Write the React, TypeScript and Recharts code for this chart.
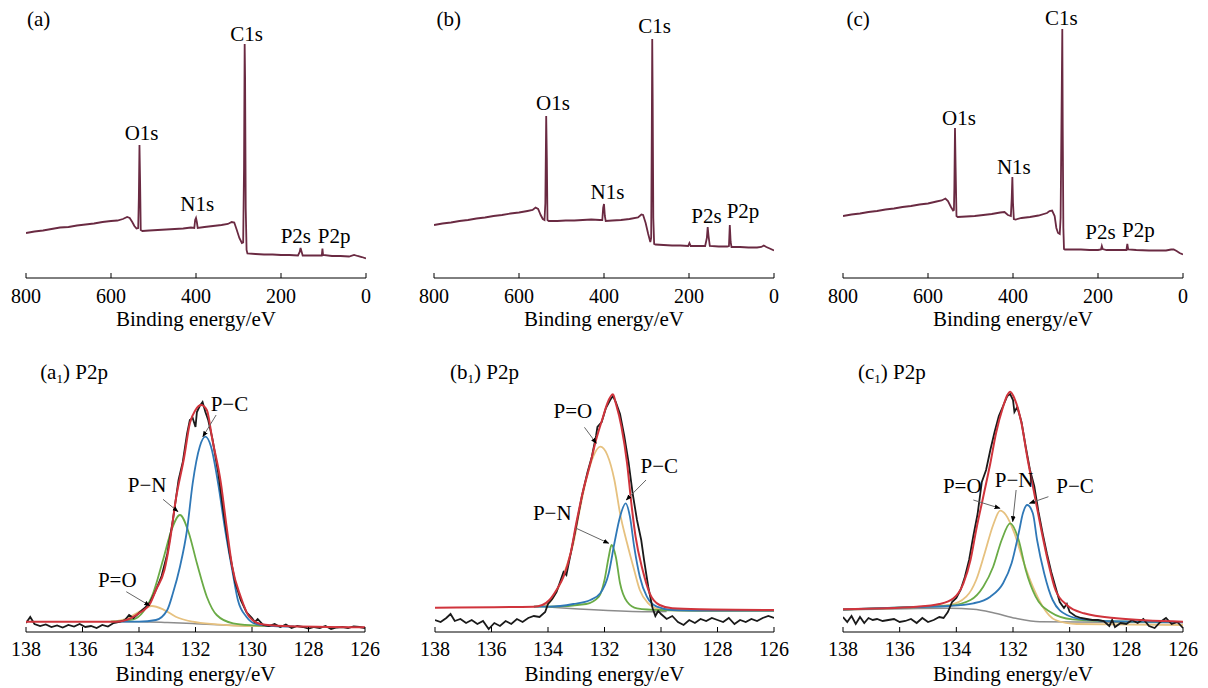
import React from "react";
import { LineChart, Line, XAxis, YAxis, ReferenceDot } from "recharts";

type Pt = [number, number];

// survey spectra: [binding energy eV, intensity a.u.]
const surveyTicks = [0, 200, 400, 600, 800];
const p2pTicks = [126, 128, 130, 132, 134, 136, 138];

const surveyA: Pt[] = [
  [800, 45], [780, 46.5], [760, 47.5], [740, 49], [720, 50.5], [700, 51], [680, 52.5], [660, 53.5],
  [640, 54.5], [620, 56], [600, 57], [585, 57.5], [572, 59], [562, 61], [556, 60], [550, 56],
  [545, 52], [540, 49.5], [536, 50], [534.5, 80], [533, 133], [531.5, 95], [530, 48], [526, 47],
  [510, 47.5], [490, 48], [470, 48.5], [450, 49], [430, 49.5], [412, 50.5], [404, 50], [402, 58],
  [400, 60], [398, 56], [396, 50], [380, 51], [360, 52], [340, 53], [325, 54], [316, 56],
  [310, 55.5], [304, 48], [298, 40], [292, 35], [289, 35.5], [287, 110], [285.5, 234], [284.5, 200],
  [283, 70], [281, 28], [279, 24.5], [260, 24], [240, 23.5], [220, 23.5], [200, 23], [180, 23],
  [160, 22.5], [156, 26], [154, 30], [152, 27], [149, 22.5], [120, 22.5], [104, 22.5], [102.5, 29.5],
  [101, 23], [80, 22], [60, 22], [40, 21.5], [28, 23], [20, 22], [10, 21], [0, 19.5],
];

const surveyB: Pt[] = [
  [800, 53], [780, 54.5], [760, 55.5], [740, 57], [720, 58], [700, 59.5], [680, 60.5], [660, 62],
  [640, 63], [620, 64.5], [600, 65.5], [580, 67], [568, 68], [561, 70.5], [555, 69], [549, 63],
  [544, 59], [540, 58], [538, 75], [536, 162], [534.5, 120], [533, 58], [530, 57], [510, 57],
  [490, 57.5], [470, 57.5], [450, 58], [430, 58.5], [410, 58], [404, 58], [402, 70], [400, 74],
  [398, 62], [396, 57], [380, 57.5], [360, 58], [340, 59], [320, 60.5], [312, 63.5], [308, 63],
  [302, 55], [296, 44], [291, 36], [289, 40], [287.5, 150], [286.5, 239], [285.5, 180], [284, 60],
  [282, 34], [279, 33.5], [260, 33], [240, 32.5], [220, 32.5], [202, 32], [199, 35], [196, 32],
  [180, 32], [162, 32], [158, 40], [156, 51], [154, 42], [151, 32], [130, 31.5], [110, 31.5],
  [106, 32], [104, 53], [102, 36], [100, 31], [80, 31], [60, 30.5], [40, 30.5], [30, 31],
  [24, 32.5], [18, 31], [10, 29.5], [0, 27.5],
];

const surveyC: Pt[] = [
  [800, 62], [780, 63.5], [760, 64.5], [740, 66], [720, 67], [700, 68.5], [680, 69.5], [660, 71],
  [640, 72], [620, 73.5], [600, 74.5], [580, 76.5], [568, 77.5], [559, 79.5], [553, 77], [546, 71],
  [541, 67.5], [539, 68], [538, 90], [536.5, 150], [535, 110], [533, 62], [530, 61], [510, 61.5],
  [490, 62], [470, 63], [450, 64], [430, 65.5], [420, 66], [412, 63], [405, 62], [403, 80],
  [401.5, 101], [400, 75], [398, 59], [394, 58.5], [380, 60], [360, 61], [340, 62.5], [320, 65],
  [314, 67], [308, 67.5], [302, 62], [298, 50], [294, 45], [290, 44], [288, 60], [285, 200],
  [284, 249], [283, 150], [281.5, 50], [280, 29], [278, 28.5], [260, 28.5], [240, 28.5], [220, 28],
  [200, 28], [193, 28.5], [191, 32], [189, 29], [180, 28], [160, 28], [140, 28], [133, 28],
  [131, 34], [129, 28.5], [110, 28], [80, 27.5], [60, 27.5], [40, 27.5], [28, 28.5], [22, 28.5],
  [15, 27], [8, 25], [0, 23.5],
];

// P2p high resolution: raw, envelope, P-C, P-N, P=O, background
const a1Raw: Pt[] = [
  [138, 9], [137.85, 15], [137.7, 8], [137.5, 6], [137.3, 7.5], [137.1, 5], [136.9, 6.5], [136.7, 4.5],
  [136.5, 7], [136.3, 5.5], [136.1, 8], [135.9, 5], [135.7, 6], [135.5, 4], [135.3, 7], [135.1, 5.5],
  [134.9, 9], [134.7, 10], [134.5, 12], [134.35, 17], [134.2, 14], [134, 19], [133.8, 24], [133.6, 30],
  [133.4, 42], [133.2, 56], [133, 78], [132.8, 112], [132.6, 152], [132.45, 170], [132.3, 198], [132.2, 212],
  [132.1, 214], [132, 205], [131.95, 220], [131.85, 226], [131.75, 230], [131.65, 220], [131.55, 212], [131.4, 193],
  [131.2, 160], [131, 118], [130.8, 80], [130.6, 50], [130.4, 32], [130.2, 20], [130, 14], [129.9, 10],
  [129.8, 13], [129.6, 7], [129.4, 6], [129.2, 8], [129, 5], [128.8, 7.5], [128.6, 4], [128.4, 6],
  [128.2, 5], [128, 3.5], [127.8, 5], [127.6, 4], [127.4, 6], [127.2, 3], [127, 4.5], [126.8, 5],
  [126.6, 4], [126.4, 5.5], [126.2, 5], [126, 4],
];
const a1Fit: Pt[] = [
  [138, 10.3], [134.8, 10.3], [134.3, 13.7], [134, 18.7], [133.6, 28.7], [133.4, 42], [133.1, 62], [132.9, 92],
  [132.7, 132], [132.4, 175], [132.2, 208.7], [132, 222], [131.8, 227], [131.6, 222], [131.4, 192], [131.1, 148.7],
  [130.9, 105.3], [130.7, 65.3], [130.4, 35.3], [130.1, 15.3], [129.7, 8], [128.9, 6], [126, 4.7],
];
const a1PC: Pt[] = [
  [134.8, 10.3], [134, 10.3], [133.4, 12], [133, 22], [132.8, 38.7], [132.55, 65.3], [132.3, 102], [132.1, 148.7],
  [131.85, 185.3], [131.65, 195.3], [131.45, 185.3], [131.2, 148.7], [130.95, 102], [130.7, 62], [130.5, 32], [130.2, 15.3],
  [129.85, 8], [129.25, 6], [128.5, 5.5],
];
const a1PN: Pt[] = [
  [135, 10.3], [134.2, 12.7], [133.85, 20.3], [133.5, 38.7], [133.15, 72], [132.85, 102], [132.55, 117], [132.25, 100.3],
  [131.95, 68.7], [131.6, 35.3], [131.25, 17], [130.67, 8.7], [129.96, 6.7], [129.2, 6],
];
const a1PO: Pt[] = [
  [135, 10.3], [134.4, 13.7], [134, 20.3], [133.55, 26], [133.15, 22.7], [132.7, 15.3], [132.1, 10.3], [131.25, 7.7],
  [130.1, 6], [129.2, 5.8],
];
const a1Bg: Pt[] = [[135, 10.3], [134, 10.3], [133, 9.5], [132, 8.3], [131, 7], [130, 6], [129.2, 5.8]];

const b1Raw: Pt[] = [
  [138, 12], [137.8, 10], [137.6, 14], [137.45, 18], [137.3, 11], [137.1, 13], [136.9, 9], [136.7, 12],
  [136.5, 8], [136.3, 11], [136.1, 3], [135.9, 9], [135.7, 6], [135.5, 11], [135.3, 8], [135.1, 13],
  [134.9, 10], [134.7, 14], [134.5, 16], [134.3, 15], [134.1, 20], [134, 28], [133.85, 33], [133.7, 40],
  [133.55, 52], [133.45, 60], [133.35, 57], [133.2, 78], [133, 106], [132.8, 136], [132.6, 160], [132.45, 175],
  [132.3, 196], [132.25, 205], [132.1, 210], [131.95, 224], [131.8, 232], [131.7, 236], [131.6, 230], [131.45, 218],
  [131.3, 196], [131.15, 170], [131, 138], [130.85, 112], [130.7, 92], [130.6, 72], [130.45, 45], [130.3, 24],
  [130.2, 16], [130.1, 21], [130, 18], [129.8, 13], [129.6, 16], [129.4, 10], [129.2, 7], [129, 12],
  [128.8, 9], [128.6, 13], [128.4, 11], [128.2, 14], [128, 12], [127.8, 10], [127.6, 14], [127.4, 8],
  [127.2, 12], [127, 10], [126.8, 13], [126.6, 11], [126.4, 14], [126.2, 16], [126, 14],
];
const b1Fit: Pt[] = [
  [138, 24.3], [134.5, 25.3], [134.2, 27], [133.95, 32], [133.7, 42], [133.45, 55.3], [133.2, 78.7], [133, 108.7],
  [132.75, 142], [132.5, 168.7], [132.3, 192], [132.05, 215.3], [131.9, 228.7], [131.7, 237.7], [131.6, 228.7], [131.4, 205.3],
  [131.2, 168.7], [131.05, 128.7], [130.9, 95.3], [130.65, 62], [130.4, 38.7], [130.05, 27], [129.6, 23.7], [128.6, 22.7],
  [126, 22],
];
const b1PC: Pt[] = [
  [134.5, 25.3], [133.95, 25.3], [133.1, 28], [132.5, 32], [132.15, 38.7], [131.85, 58.7], [131.65, 88.7], [131.45, 115.3],
  [131.25, 128.7], [131.1, 115.3], [130.95, 85.3], [130.75, 55.3], [130.5, 35.3], [130.15, 25.3], [129.6, 22], [128.5, 21.5],
  [126, 21.3],
];
const b1PN: Pt[] = [
  [134.5, 25.3], [133.95, 25.3], [132.65, 28], [132.2, 35.3], [132, 52], [131.85, 75.3], [131.75, 87], [131.6, 75.3],
  [131.45, 48.7], [131.2, 30.3], [130.85, 23.7], [130.05, 22], [128.5, 21.5], [126, 21.3],
];
const b1PO: Pt[] = [
  [134.5, 25.3], [134.05, 27], [133.7, 40.3], [133.35, 65.3], [133.1, 88.7], [132.9, 118.7], [132.65, 152], [132.4, 175.3],
  [132.15, 185.3], [131.9, 177], [131.65, 152], [131.45, 118.7], [131.2, 88.7], [130.95, 62], [130.75, 42], [130.45, 28.7],
  [130.05, 22.7], [129.2, 21.3], [128.5, 21], [126, 21],
];
const b1Bg: Pt[] = [[134.1, 25.3], [130.3, 20.3], [129.8, 20.5]];

const c1Raw: Pt[] = [
  [138, 15], [137.85, 10], [137.7, 16], [137.55, 8], [137.4, 15], [137.25, 9], [137.1, 14], [136.95, 12],
  [136.8, 13], [136.6, 11], [136.4, 12], [136.2, 13], [136, 10], [135.8, 11], [135.6, 13], [135.4, 9],
  [135.2, 14], [135, 10], [134.8, 12], [134.6, 15], [134.45, 14], [134.3, 20], [134.15, 30], [134, 34],
  [133.85, 42], [133.7, 55], [133.55, 72], [133.4, 96], [133.25, 118], [133.1, 150], [132.95, 162], [132.8, 182],
  [132.65, 200], [132.5, 216], [132.35, 226], [132.2, 236], [132.1, 238], [132, 232], [131.95, 220], [131.85, 225],
  [131.7, 210], [131.55, 185], [131.4, 162], [131.25, 146], [131.1, 120], [130.95, 98], [130.8, 78], [130.65, 60],
  [130.5, 45], [130.35, 30], [130.2, 24], [130.1, 28], [130, 20], [129.8, 16], [129.6, 14], [129.4, 13],
  [129.2, 12], [129, 12], [128.8, 11], [128.6, 6], [128.5, 12], [128.4, 5], [128.2, 9], [128, 8],
  [127.8, 12], [127.6, 9], [127.4, 13], [127.2, 6], [127, 4], [126.8, 10], [126.6, 14], [126.4, 8],
  [126.2, 10], [126, 4],
];
const c1Fit: Pt[] = [
  [138, 22.7], [135.4, 25.3], [134.6, 28], [134.1, 33.7], [133.75, 48.7], [133.5, 72], [133.3, 102], [133.05, 135.3],
  [132.8, 168.7], [132.6, 198.7], [132.35, 225.3], [132.2, 237], [132.1, 240.3], [131.95, 233.7], [131.7, 208.7], [131.5, 175.3],
  [131.25, 138.7], [131, 102], [130.75, 68.7], [130.5, 42], [130.1, 27], [129.5, 18.7], [128.35, 13.7], [126, 10.3],
];
const c1PC: Pt[] = [
  [138, 22.5], [135.4, 25], [134.25, 26], [133.4, 28.7], [132.8, 35.3], [132.35, 48.7], [132.05, 68.7], [131.8, 98.7],
  [131.65, 118.7], [131.5, 127], [131.3, 118.7], [131.15, 92], [130.9, 58.7], [130.6, 32], [130.1, 17], [129.5, 12.7],
  [127.75, 10.3], [126, 10],
];
const c1PN: Pt[] = [
  [138, 22.5], [135.4, 25], [134.25, 26.3], [133.5, 32], [133.05, 45.3], [132.7, 65.3], [132.4, 92], [132.1, 108.7],
  [131.8, 92], [131.55, 62], [131.2, 35.3], [130.7, 20.3], [129.9, 12.7], [127.75, 10.3], [126, 10],
];
const c1PO: Pt[] = [
  [138, 22.5], [135.4, 25], [134.25, 27], [133.65, 35.3], [133.3, 52], [133, 78.7], [132.7, 107], [132.45, 121.3],
  [132.25, 117], [131.95, 98.7], [131.65, 72], [131.3, 45.3], [130.95, 25.3], [130.5, 12], [129.75, 8], [126, 7],
];
const c1Bg: Pt[] = [[138, 22], [134.25, 23.7], [133.4, 22.7], [132.7, 19.3], [131.9, 13.7], [131.05, 10.3], [126, 9.3]];

// annotation arrows: [from, to]
const a1Arrows: Pt[][] = [
  [[131.27, 217], [131.74, 195.3]],
  [[133.15, 132.7], [132.62, 120.3]],
  [[134.45, 40.3], [133.62, 26.3]],
];
const b1Arrows: Pt[][] = [
  [[132.71, 204.7], [132.29, 188.7]],
  [[130.53, 152], [131.23, 132]],
  [[133.0, 103.7], [131.85, 88.7]],
];
const c1Arrows: Pt[][] = [
  [[133.4, 132], [132.46, 123.7]],
  [[131.89, 142], [132.01, 110.3]],
  [[130.75, 135.3], [131.42, 128.7]],
];

const FONT = "Liberation Serif";
const SURVEY = "#6a2a42";
const RAW = "#1a1a1a";
const FIT = "#d0343c";
const PC = "#2f78b7";
const PN = "#6aab46";
const PO = "#e6c17f";
const BG = "#8c8c8c";

const rows = (pts: Pt[]) => pts.map(([e, v]) => ({ e, v }));

interface Series {
  pts: Pt[];
  color: string;
  width: number;
  curve?: "linear" | "monotone";
  arrow?: boolean;
}

interface Note {
  e: number;
  v: number;
  text: React.ReactNode;
  anchor?: "start" | "middle";
}

interface PanelProps {
  left: number;
  top: number;
  margin: { top: number; right: number; bottom: number; left: number };
  domain: [number, number];
  ticks: number[];
  gap: number;
  titleOffset: number;
  series: Series[];
  notes: Note[];
}

const makeTick = (gap: number) => (props: any) => {
  const { x, y, payload } = props;
  return (
    <g>
      <line x1={x} x2={x} y1={y} y2={y - 5} stroke="#000" strokeWidth={1} />
      <text x={x} y={y + gap} dy="0.71em" textAnchor="middle" fontFamily={FONT} fontSize={20} fill="#000">
        {payload.value}
      </text>
    </g>
  );
};

const sub = (head: string, idx: string, tail: string) => (
  <>
    <tspan>{head}</tspan>
    <tspan fontSize={13} dy={4}>{idx}</tspan>
    <tspan dy={-4}>{tail}</tspan>
  </>
);

function Panel({ left, top, margin, domain, ticks, gap, titleOffset, series, notes }: PanelProps) {
  return (
    <div style={{ position: "absolute", left, top }}>
      <LineChart width={400} height={344} margin={margin}>
        <XAxis
          type="number"
          dataKey="e"
          domain={domain}
          reversed
          allowDataOverflow
          ticks={ticks}
          interval={0}
          height={30}
          stroke="#000"
          tickLine={false}
          tickSize={0}
          tickMargin={0}
          tick={makeTick(gap)}
          label={{
            value: "Binding energy/eV",
            position: "bottom",
            offset: titleOffset,
            fill: "#000",
            fontFamily: FONT,
            fontSize: 21,
          }}
        />
        <YAxis type="number" domain={[0, 250]} hide allowDataOverflow />
        {series.map((s, i) => (
          <Line
            key={i}
            data={rows(s.pts)}
            dataKey="v"
            type={s.curve ?? "linear"}
            stroke={s.color}
            strokeWidth={s.width}
            dot={false}
            activeDot={false}
            isAnimationActive={false}
            markerEnd={s.arrow ? "url(#arrowHead)" : undefined}
          />
        ))}
        {notes.map((n, i) => (
          <ReferenceDot
            key={"n" + i}
            x={n.e}
            y={n.v}
            r={0}
            ifOverflow="visible"
            shape={(p: any) => (
              <text x={p.cx} y={p.cy} textAnchor={n.anchor ?? "middle"} fontFamily={FONT} fontSize={21} fill="#000">
                {n.text}
              </text>
            )}
          />
        ))}
      </LineChart>
    </div>
  );
}

const surveySeries = (pts: Pt[]): Series[] => [{ pts, color: SURVEY, width: 1.8 }];

const p2pSeries = (bg: Pt[], po: Pt[], pn: Pt[], pc: Pt[], raw: Pt[], fit: Pt[], arrows: Pt[][]): Series[] => [
  { pts: bg, color: BG, width: 1.5, curve: "monotone" },
  { pts: po, color: PO, width: 1.8, curve: "monotone" },
  { pts: pn, color: PN, width: 1.8, curve: "monotone" },
  { pts: pc, color: PC, width: 1.8, curve: "monotone" },
  { pts: raw, color: RAW, width: 1.8 },
  { pts: fit, color: FIT, width: 2, curve: "monotone" },
  ...arrows.map((a) => ({ pts: a, color: "#666", width: 1, arrow: true })),
];

const topMargin = (l: number, r: number) => ({ top: 28, right: r, bottom: 36, left: l });
const botMargin = (l: number, r: number) => ({ top: 38, right: r, bottom: 26, left: l });

export default function App() {
  return (
    <div style={{ position: "absolute", left: 0, top: 0, width: 1208, height: 688, background: "#fff" }}>
      <svg width={0} height={0} style={{ position: "absolute" }}>
        <defs>
          <marker id="arrowHead" viewBox="0 0 10 10" refX="9" refY="5" markerWidth="6" markerHeight="6" orient="auto">
            <path d="M0,1 L10,5 L0,9 z" fill="#000" />
          </marker>
        </defs>
      </svg>

      <Panel left={0} top={0} margin={topMargin(26, 34)} domain={[0, 800]} ticks={surveyTicks} gap={11} titleOffset={3}
        series={surveySeries(surveyA)}
        notes={[
          { e: 797.6, v: 252, text: "(a)", anchor: "start" },
          { e: 528, v: 138, text: "O1s" },
          { e: 397, v: 67, text: "N1s" },
          { e: 281, v: 237, text: "C1s" },
          { e: 165, v: 35, text: "P2s" },
          { e: 75, v: 35, text: "P2p" },
        ]}
      />
      <Panel left={400} top={0} margin={topMargin(34, 26)} domain={[0, 800]} ticks={surveyTicks} gap={11} titleOffset={3}
        series={surveySeries(surveyB)}
        notes={[
          { e: 794, v: 252, text: "(b)", anchor: "start" },
          { e: 520, v: 168, text: "O1s" },
          { e: 392, v: 79, text: "N1s" },
          { e: 281, v: 245, text: "C1s" },
          { e: 159, v: 55, text: "P2s" },
          { e: 73, v: 60, text: "P2p" },
        ]}
      />
      <Panel left={800} top={0} margin={topMargin(43, 17)} domain={[0, 800]} ticks={surveyTicks} gap={11} titleOffset={3}
        series={surveySeries(surveyC)}
        notes={[
          { e: 792, v: 252, text: "(c)", anchor: "start" },
          { e: 527, v: 153, text: "O1s" },
          { e: 398, v: 104, text: "N1s" },
          { e: 286, v: 253, text: "C1s" },
          { e: 194, v: 39, text: "P2s" },
          { e: 105, v: 41, text: "P2p" },
        ]}
      />

      <Panel left={0} top={344} margin={botMargin(26, 35)} domain={[126, 138]} ticks={p2pTicks} gap={10} titleOffset={4}
        series={p2pSeries(a1Bg, a1PO, a1PN, a1PC, a1Raw, a1Fit, a1Arrows)}
        notes={[
          { e: 137.5, v: 252.7, text: sub("(a", "1", ") P2p"), anchor: "start" },
          { e: 130.8, v: 221.3, text: "P\u2212C" },
          { e: 133.71, v: 140.3, text: "P\u2212N" },
          { e: 134.77, v: 44.7, text: "P=O" },
        ]}
      />
      <Panel left={400} top={344} margin={botMargin(35, 26)} domain={[126, 138]} ticks={p2pTicks} gap={10} titleOffset={4}
        series={p2pSeries(b1Bg, b1PO, b1PN, b1PC, b1Raw, b1Fit, b1Arrows)}
        notes={[
          { e: 137.47, v: 252.7, text: sub("(b", "1", ") P2p"), anchor: "start" },
          { e: 133.12, v: 213.7, text: "P=O" },
          { e: 130.06, v: 159.3, text: "P\u2212C" },
          { e: 133.85, v: 112, text: "P\u2212N" },
        ]}
      />
      <Panel left={800} top={344} margin={botMargin(43, 17)} domain={[126, 138]} ticks={p2pTicks} gap={10} titleOffset={4}
        series={p2pSeries(c1Bg, c1PO, c1PN, c1PC, c1Raw, c1Fit, c1Arrows)}
        notes={[
          { e: 137.47, v: 252.7, text: sub("(c", "1", ") P2p"), anchor: "start" },
          { e: 133.79, v: 139.3, text: "P=O" },
          { e: 131.96, v: 145.3, text: "P\u2212N" },
          { e: 129.81, v: 139.3, text: "P\u2212C" },
        ]}
      />
    </div>
  );
}
